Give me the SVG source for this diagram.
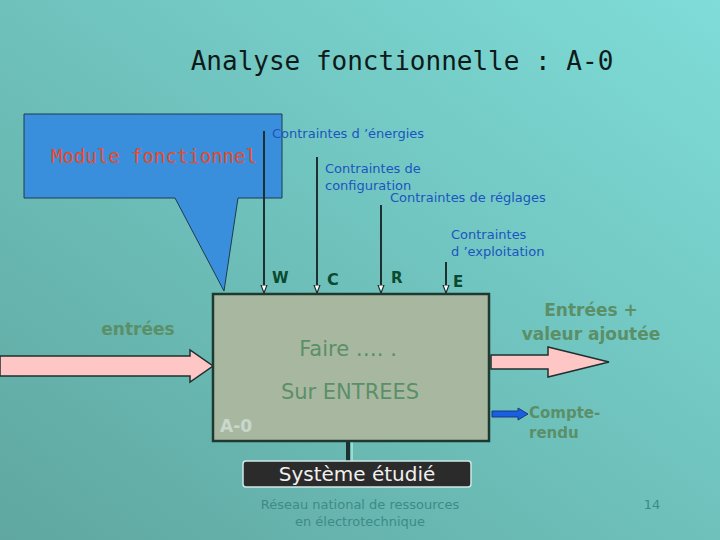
<svg xmlns="http://www.w3.org/2000/svg" width="720" height="540" viewBox="0 0 720 540">
<defs>
<linearGradient id="bg" x1="0" y1="1" x2="1" y2="0"><stop offset="0" stop-color="#5fa7a0"/><stop offset="1" stop-color="#7fdcd8"/></linearGradient>
<marker id="ah" markerWidth="9" markerHeight="9" refX="8" refY="4" orient="auto" markerUnits="userSpaceOnUse"><path d="M0,1 L8,4 L0,7 Z" fill="#fff" stroke="#1e3030" stroke-width="1.2"/></marker>
<style>
.c{font-family:"Comic Sans MS","DejaVu Sans",sans-serif}
.lbl{font-size:13px;fill:#1a55c0}
.g{fill:#5a8f68;font-weight:bold}
.v{stroke:#1e3030;stroke-width:2;fill:none}
</style>
</defs>
<rect width="720" height="540" fill="url(#bg)"/>
<text x="402" y="70" text-anchor="middle" font-family="DejaVu Sans Mono, monospace" font-size="26" fill="#0d1a1a">Analyse fonctionnelle : A-0</text>
<g id="callout">
<path d="M24,114 H282 V198 H238 L224,291 L175,198 H24 Z" fill="#3a8fdc" stroke="#1e3a50" stroke-width="1"/>
<text x="154" y="163" text-anchor="middle" font-family="DejaVu Sans Mono, monospace" font-size="19" fill="#e84a2a">Module fonctionnel</text>
</g>
<g id="connectors">
<line class="v" x1="264" y1="131" x2="264" y2="293" marker-end="url(#ah)"/>
<line class="v" x1="317" y1="157" x2="317" y2="293" marker-end="url(#ah)"/>
<line class="v" x1="381" y1="205" x2="381" y2="293" marker-end="url(#ah)"/>
<line class="v" x1="446" y1="262" x2="446" y2="293" marker-end="url(#ah)"/>
<path d="M0,356 H190 V350 L213,366 L190,382 V376 H0 Z" fill="#ffc6c6" stroke="#1e3030" stroke-width="1.5"/>
<path d="M491,355 H548 V347 L609,362 L548,377 V369 H491 Z" fill="#ffc6c6" stroke="#1e3030" stroke-width="1.5"/>
<path d="M492,411 H518 V408 L528,414 L518,420 V417 H492 Z" fill="#1a5fe0" stroke="#1a3a80" stroke-width="1"/>
<line x1="348" y1="442" x2="348" y2="461" stroke="#1e3030" stroke-width="4"/>
<line x1="352" y1="442" x2="352" y2="461" stroke="#cfe" stroke-width="1"/>
</g>
<g id="labels">
<text x="272" y="138" class="c lbl">Contraintes d ’énergies</text>
<text x="325" y="173" class="c lbl">Contraintes de</text>
<text x="325" y="190" class="c lbl">configuration</text>
<text x="390" y="202" class="c lbl">Contraintes de réglages</text>
<text x="451" y="239" class="c lbl">Contraintes</text>
<text x="451" y="256" class="c lbl">d ’exploitation</text>
<text x="272" y="283" class="c" font-size="15" font-weight="bold" fill="#0a4a30">W</text>
<text x="327" y="285" class="c" font-size="16" font-weight="bold" fill="#0a4a30">C</text>
<text x="391" y="283" class="c" font-size="15" font-weight="bold" fill="#0a4a30">R</text>
<text x="453" y="287" class="c" font-size="15" font-weight="bold" fill="#0a4a30">E</text>
<text x="138" y="335" text-anchor="middle" class="c g" font-size="17">entrées</text>
<text x="591" y="316" text-anchor="middle" class="c g" font-size="17">Entrées +</text>
<text x="591" y="340" text-anchor="middle" class="c g" font-size="17">valeur ajoutée</text>
<text x="529" y="418" class="c g" font-size="15">Compte-</text>
<text x="529" y="438" class="c g" font-size="15">rendu</text>
</g>
<g id="box">
<rect x="213" y="294" width="276" height="147" fill="#a8b8a0" stroke="#1e3a30" stroke-width="2.5"/>
<text x="348" y="356" text-anchor="middle" class="c" font-size="21" fill="#5a8f68">Faire …. .</text>
<text x="350" y="399" text-anchor="middle" class="c" font-size="21" fill="#5a8f68">Sur ENTREES</text>
<text x="220" y="432" class="c" font-size="17" font-weight="bold" fill="#c8d8cc">A-0</text>
</g>
<g id="systeme">
<rect x="243" y="461" width="228" height="26" rx="3" fill="#2b2b2b" stroke="#cfe8e8" stroke-width="1.5"/>
<text x="357" y="481" text-anchor="middle" class="c" font-size="20" fill="#f0f0f0">Système étudié</text>
</g>
<text x="360" y="509" text-anchor="middle" class="c" font-size="13" fill="#3e8a88">Réseau national de ressources</text>
<text x="360" y="526" text-anchor="middle" class="c" font-size="13" fill="#3e8a88">en électrotechnique</text>
<text x="652" y="509" text-anchor="middle" class="c" font-size="13" fill="#3e8a88">14</text>
</svg>
